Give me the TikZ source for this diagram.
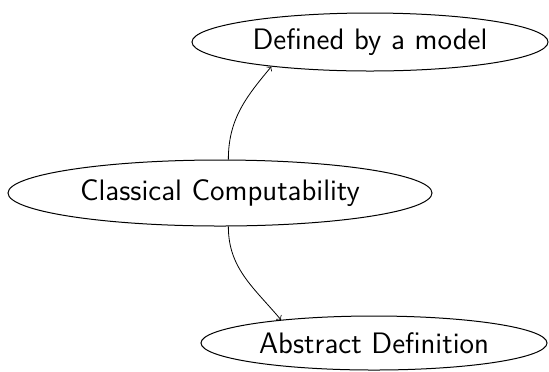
\documentclass[tikz,border=0pt]{standalone}
\usetikzlibrary{shapes.geometric}
\begin{document}
\begin{tikzpicture}[x=0.5pt,y=-0.5pt,
  blob/.style={ellipse,draw,line width=0.5pt,inner sep=0pt,font=\sffamily\fontsize{14.8}{17}\selectfont},
  link/.style={->,line width=0.4pt}]
\useasboundingbox (0,0) rectangle (549,371);
\node[blob,minimum width=178pt,minimum height=29pt] (top) at (370,42) {Defined by a model};
\node[blob,minimum width=212pt,minimum height=33pt] (mid) at (220,193) {Classical Computability};
\node[blob,minimum width=173pt,minimum height=27pt] (bot) at (374,343) {Abstract Definition};
\draw[link] (mid.76) to[out=90,in=230] (top.194);
\draw[link] (mid.284) to[out=-90,in=130] (bot.166);
\end{tikzpicture}
\end{document}
